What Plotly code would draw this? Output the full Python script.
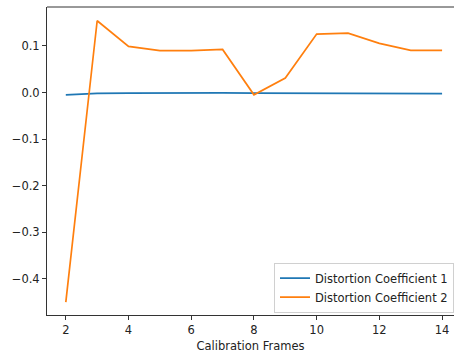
import plotly.graph_objects as go

# Number of calibration frames used for each estimate
frames = [2, 3, 4, 5, 6, 7, 8, 9, 10, 11, 12, 13, 14]

# Estimated radial distortion coefficients
coef1 = [-0.005, -0.002, -0.0015, -0.001, -0.001, -0.001, -0.0012,
         -0.0015, -0.002, -0.0025, -0.0025, -0.0025, -0.0025]
coef2 = [-0.450, 0.154, 0.099, 0.0897, 0.090, 0.0925, -0.005,
         0.031, 0.1255, 0.1275, 0.1055, 0.0905, 0.0905]

y_ticks = [-0.4, -0.3, -0.2, -0.1, 0.0, 0.1]
x_ticks = [2, 4, 6, 8, 10, 12, 14]

font = "DejaVu Sans"

fig = go.Figure()
fig.add_trace(go.Scatter(x=frames, y=coef1, mode="lines",
                         name="Distortion Coefficient 1",
                         line=dict(color="#1f77b4", width=1.7)))
fig.add_trace(go.Scatter(x=frames, y=coef2, mode="lines",
                         name="Distortion Coefficient 2",
                         line=dict(color="#ff7f0e", width=1.7)))

# top spine only (the right edge of the axes box falls outside the figure)
fig.add_shape(type="line", xref="paper", yref="paper",
              x0=0, x1=1, y0=1, y1=1, line=dict(color="#333", width=1))

fig.update_layout(
    width=454, height=356,
    margin=dict(l=47, r=0, t=7, b=41),
    paper_bgcolor="white", plot_bgcolor="white",
    font=dict(family=font, size=11.5, color="#222"),
    showlegend=True,
    legend=dict(
        x=1.0, y=0.008, xanchor="right", yanchor="bottom",
        bgcolor="rgba(255,255,255,0.8)", bordercolor="#d0d0d0", borderwidth=1,
        font=dict(family=font, size=11.5, color="#222"),
        tracegroupgap=0, itemwidth=30,
    ),
    xaxis=dict(
        range=[1.4, 14.38], tickvals=x_ticks, ticktext=[str(v) for v in x_ticks],
        showgrid=False, zeroline=False,
        showline=True, linecolor="#333", linewidth=1,
        ticks="outside", ticklen=4, tickcolor="#333", tickwidth=1,
        title=dict(text="Calibration Frames", font=dict(family=font, size=11.5), standoff=6),
    ),
    yaxis=dict(
        range=[-0.4775, 0.1835], tickvals=y_ticks, tickformat=".1f",
        showgrid=False, zeroline=False,
        showline=True, linecolor="#333", linewidth=1,
        ticks="outside", ticklen=4, tickcolor="#333", tickwidth=1,
    ),
)

fig.write_html("out.html")
